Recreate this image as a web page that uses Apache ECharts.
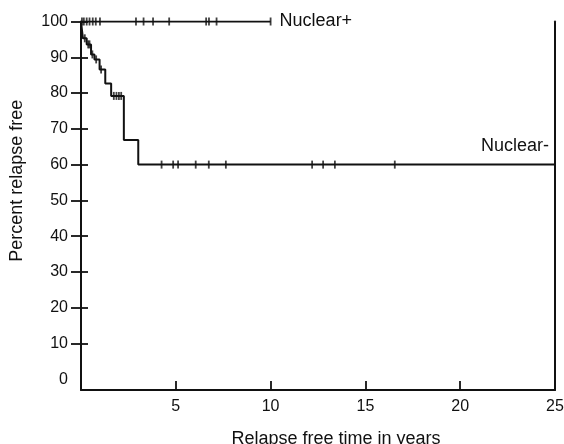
<!DOCTYPE html>
<html>
<head>
<meta charset="utf-8">
<script src="https://cdn.jsdelivr.net/npm/echarts@6/dist/echarts.min.js"></script>
<style>
  html, body { margin: 0; padding: 0; background: #fff; }
  #chart { width: 564px; height: 444px; }
</style>
</head>
<body>
<div id="chart"></div>
<script>
'use strict';

// axis ticks / labels
var yearTicks = [5, 10, 15, 20, 25];
var pctTicks = [10, 20, 30, 40, 50, 60, 70, 80, 90, 100];
var pctLabels = [0, 10, 20, 30, 40, 50, 60, 70, 80, 90, 100];

// Nuclear+ : no relapse, only censored cases
var plusTimes = [0, 10.0];
var plusPct = [100, 100];
var plusCensored = [0.05, 0.15, 0.3, 0.45, 0.62, 0.78, 1.0, 2.9, 3.3, 3.8, 4.65, 6.6, 6.75, 7.15, 10.0];

// Nuclear- : step curve (value after each drop)
var minusTimes = [0, 0.1, 0.3, 0.53, 0.71, 0.98, 1.28, 1.59, 2.26, 3.02, 25];
var minusPct = [100, 95.3, 93.6, 90.8, 89.4, 86.6, 82.7, 79.2, 66.9, 60, 60];
var minusCensored = [0.2, 0.38, 0.45, 0.6, 0.8, 1.06, 1.73, 1.87, 2.0, 2.12,
  4.25, 4.86, 5.12, 6.05, 6.74, 7.64, 12.19, 12.77, 13.39, 16.55];

var ink = '#111';
var font = '"Liberation Sans", Arial, Helvetica, sans-serif';

function zip(xs, ys) {
  return xs.map(function (x, i) { return [x, ys[i]]; });
}

// level of a step curve at time t
function levelAt(times, pct, t) {
  var v = pct[0];
  for (var i = 0; i < times.length; i++) {
    if (times[i] <= t) v = pct[i];
  }
  return v;
}

function censorPoints(list, times, pct) {
  return list.map(function (t) { return [t, levelAt(times, pct, t)]; });
}

var chart = echarts.init(document.getElementById('chart'));

var option = {
  animation: false,
  backgroundColor: '#fff',
  textStyle: { fontFamily: font, color: ink },
  grid: { left: 81, right: 9, top: 21.5, bottom: 54, containLabel: false, outerBoundsMode: 'none' },
  xAxis: {
    type: 'value',
    min: 0,
    max: 25,
    interval: 5,
    name: 'Relapse free time in years',
    nameLocation: 'middle',
    nameGap: 40,
    nameTextStyle: { fontSize: 18, color: ink, fontFamily: font, padding: [0, 0, 0, 36] },
    splitLine: { show: false },
    axisLine: { onZero: false, lineStyle: { color: ink, width: 2 } },
    axisTick: { inside: true, length: 9, lineStyle: { color: ink, width: 1.8 }, customValues: yearTicks },
    axisLabel: { fontSize: 16, color: ink, fontFamily: font, margin: 9, customValues: yearTicks }
  },
  yAxis: [{
    type: 'value',
    min: -3,
    max: 100,
    position: 'left',
    name: 'Percent relapse free',
    nameLocation: 'middle',
    nameGap: 55,
    nameTextStyle: { fontSize: 18, color: ink, fontFamily: font, padding: [0, 0, 0, 50] },
    splitLine: { show: false },
    axisLine: { show: true, onZero: false, lineStyle: { color: ink, width: 2 } },
    axisTick: { show: true, length: 10, lineStyle: { color: ink, width: 1.8 }, customValues: pctTicks },
    axisLabel: { fontSize: 16, color: ink, fontFamily: font, margin: 13, customValues: pctLabels }
  }, {
    // inner half of the crossing ticks
    type: 'value',
    min: -3,
    max: 100,
    position: 'left',
    splitLine: { show: false },
    axisLine: { show: false, onZero: false },
    axisTick: { show: true, inside: true, length: 7, lineStyle: { color: ink, width: 1.8 }, customValues: pctTicks },
    axisLabel: { show: false }
  }, {
    // right frame line
    type: 'value',
    min: -3,
    max: 100,
    position: 'right',
    splitLine: { show: false },
    axisLine: { show: true, onZero: false, lineStyle: { color: ink, width: 2 } },
    axisTick: { show: false },
    axisLabel: { show: false }
  }],
  series: [{
    name: 'Nuclear+',
    type: 'line',
    data: zip(plusTimes, plusPct),
    showSymbol: false,
    lineStyle: { color: ink, width: 2 },
    endLabel: {
      show: true,
      formatter: 'Nuclear+',
      fontSize: 18,
      fontFamily: font,
      color: ink,
      distance: 9
    }
  }, {
    name: 'Nuclear-',
    type: 'line',
    step: 'end',
    data: zip(minusTimes, minusPct),
    showSymbol: false,
    lineStyle: { color: ink, width: 2 },
    endLabel: {
      show: true,
      formatter: 'Nuclear-',
      fontSize: 18,
      fontFamily: font,
      color: ink,
      align: 'right',
      distance: 0,
      offset: [-6, -19]
    }
  }, {
    name: 'censored+',
    type: 'scatter',
    data: censorPoints(plusCensored, plusTimes, plusPct),
    symbol: 'rect',
    symbolSize: [1.8, 8],
    itemStyle: { color: ink },
    silent: true
  }, {
    name: 'censored-',
    type: 'scatter',
    data: censorPoints(minusCensored, minusTimes, minusPct),
    symbol: 'rect',
    symbolSize: [1.8, 8],
    itemStyle: { color: ink },
    silent: true
  }]
};

chart.setOption(option);
window.addEventListener('resize', function () {
  chart.resize();
});
</script>
</body>
</html>
